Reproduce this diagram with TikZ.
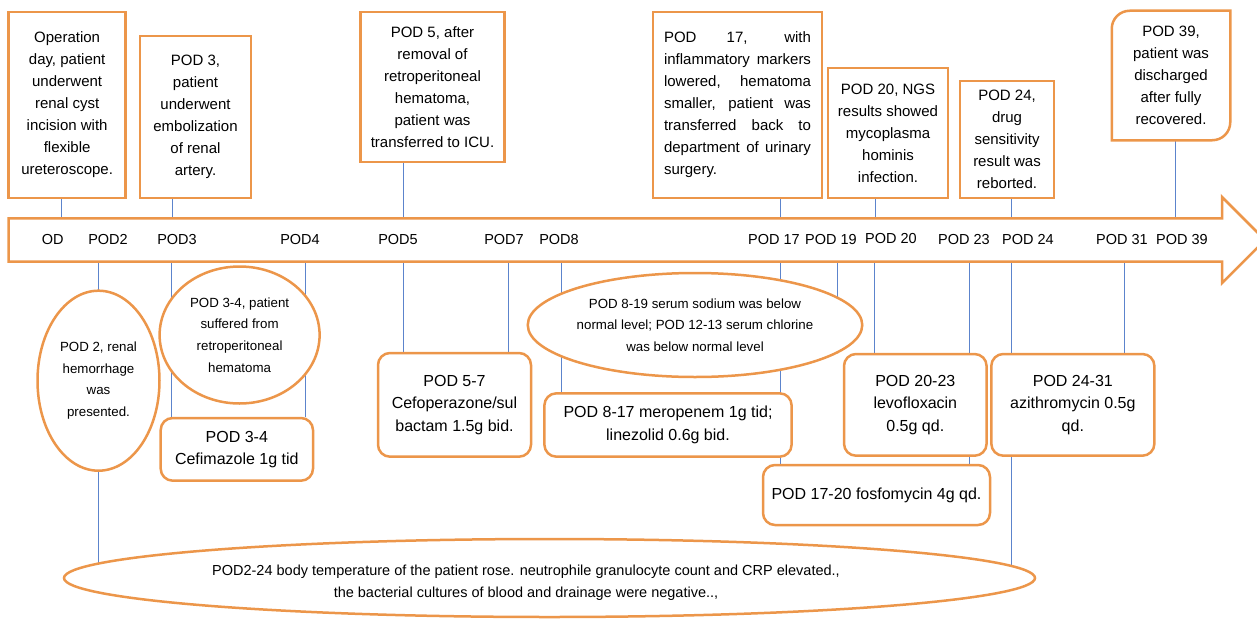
\documentclass[tikz,border=0pt]{standalone}
\usepackage{fontspec}
\setmainfont{Liberation Sans}
\usetikzlibrary{shapes.geometric,backgrounds,calc}
\definecolor{org}{RGB}{236,150,74}
\definecolor{blu}{RGB}{92,132,204}
\tikzset{
  obox/.style={draw=org, line width=2.5pt, fill=white, inner sep=0pt, align=center},
  topbox/.style={obox, font=\fontsize{15}{22}\selectfont},
  rbox/.style={obox, rounded corners=12pt, font=\fontsize{16}{22.5}\selectfont},
  oell/.style={obox, ellipse, font=\fontsize{13.3}{21.7}\selectfont},
  albl/.style={font=\fontsize{14.5}{17}\selectfont, inner sep=0pt},
  conn/.style={draw=blu, line width=0.9pt},
  oline/.style={draw=org, line width=2.5pt, line join=miter},
}
\begin{document}
\begin{tikzpicture}[x=1pt,y=-1pt]
\useasboundingbox (0,0) rectangle (1257,618);
\clip (0,0) rectangle (1257,618);

% timeline arrow
\draw[oline, fill=white] (8.6,218.3) -- (1222,218.3) -- (1222,197) -- (1265,240) -- (1222,283) -- (1222,261.5) -- (8.6,261.5) -- cycle;

% arrow labels
\node[albl] (lOD)  at (52.7,240) {OD};
\node[albl] (l2)   at (108,240) {POD2};
\node[albl] (l3)   at (177,240) {POD3};
\node[albl] (l4)   at (300,240) {POD4};
\node[albl] (l5)   at (398,240) {POD5};
\node[albl] (l7)   at (504,240) {POD7};
\node[albl] (l8)   at (559,240) {POD8};
\node[albl] (l17)  at (774,240) {POD 17};
\node[albl] (l19)  at (831,240) {POD 19};
\node[albl] (l20)  at (891,239) {POD 20};
\node[albl] (l23)  at (964,240) {POD 23};
\node[albl] (l24)  at (1028,240) {POD 24};
\node[albl] (l31)  at (1122,240) {POD 31};
\node[albl] (l39)  at (1182,240) {POD 39};

% top boxes
\node[topbox, minimum width=117.1pt, minimum height=186pt] (tOD) at (67.15,105)
  {Operation\\day, patient\\underwent\\renal cyst\\incision with\\flexible\\ureteroscope.};
\node[topbox, minimum width=111pt, minimum height=162pt] (t3) at (195.5,117)
  {POD 3,\\patient\\underwent\\embolization\\of renal\\artery.};
\node[topbox, minimum width=144pt, minimum height=150pt] (t5) at (432.5,87)
  {POD 5, after\\removal of\\retroperitoneal\\hematoma,\\patient was\\transferred to ICU.};
\node[topbox, align=left, minimum width=169pt, minimum height=186pt] (t17) at (737.5,105)
  {\makebox[147pt][s]{POD\hspace{0pt} 17, with}\\
   \makebox[147pt][s]{inflammatory markers}\\
   \makebox[147pt][s]{lowered, hematoma}\\
   \makebox[147pt][s]{smaller, patient was}\\
   \makebox[147pt][s]{transferred back to}\\
   \makebox[147pt][s]{department of urinary}\\
   surgery.\hspace{110pt}};
\node[topbox, minimum width=120pt, minimum height=130pt] (t20) at (888,133)
  {POD 20, NGS\\results showed\\mycoplasma\\hominis\\infection.};
\node[topbox, minimum width=94pt, minimum height=117pt] (t24) at (1007,139.5)
  {POD 24,\\drug\\sensitivity\\result was\\reborted.};
\node[topbox, draw=none, minimum width=116pt, minimum height=127pt] (t39) at (1171,75.5)
  {POD 39,\\patient was\\discharged\\after fully\\recovered.};
\draw[oline] ($(t39.north west)+(18,0)$) -- (t39.north east) -- ($(t39.south east)+(0,-18)$)
  .. controls ($(t39.south east)+(0,-8)$) and ($(t39.south east)+(-8,0)$) .. ($(t39.south east)+(-18,0)$) -- (t39.south west)
  -- ($(t39.north west)+(0,18)$) .. controls ($(t39.north west)+(0,8)$) and ($(t39.north west)+(8,0)$) .. ($(t39.north west)+(18,0)$) -- cycle;

% bottom shapes
\node[oell, minimum width=122pt, minimum height=180pt] (eP2) at (98.5,380.7)
  {POD 2, renal\\hemorrhage\\was\\presented.};
\node[oell, minimum width=160pt, minimum height=137pt] (eP34) at (239.6,335)
  {POD 3-4, patient\\suffered from\\retroperitoneal\\hematoma};
\node[rbox, minimum width=152.3pt, minimum height=62.7pt] (bCef) at (236.85,449.35)
  {POD 3-4\\Cefimazole 1g tid};
\node[rbox, minimum width=153pt, minimum height=103.7pt] (bP57) at (454.5,404.85)
  {POD 5-7\\Cefoperazone/sul\\bactam 1.5g bid.};
\node[oell, minimum width=330.7pt, minimum height=104pt] (eNa) at (695,325)
  {POD 8-19 serum sodium was below\\normal level; POD 12-13 serum chlorine\\was below normal level};
\node[rbox, minimum width=247.2pt, minimum height=63.4pt] (bMero) at (668,425)
  {POD 8-17 meropenem 1g tid;\\linezolid 0.6g bid.};
\node[rbox, minimum width=142.6pt, minimum height=101.7pt] (bLevo) at (915.3,404.85)
  {POD 20-23\\levofloxacin\\0.5g qd.};
\node[rbox, minimum width=163.1pt, minimum height=101.7pt] (bAzi) at (1072.85,404.85)
  {POD 24-31\\azithromycin 0.5g\\qd.};
\node[rbox, minimum width=227pt, minimum height=60pt] (bFos) at (876.5,495)
  {POD 17-20 fosfomycin 4g qd.};
\node[obox, ellipse, minimum width=971pt, minimum height=78pt] (eBig) at (549.5,578) {};
\node[font=\fontsize{14.5}{22.3}\selectfont, align=center, inner sep=0pt] (bigtxt) at (526,583)
  {POD2-24 body temperature of the patient rose. neutrophile granulocyte count and CRP elevated.,\\
   the bacterial cultures of blood and drainage were negative..,};

% connectors on arrow
\coordinate (aT0)  at (61,218.3);
\coordinate (aT3)  at (172,218.3);
\coordinate (aT5)  at (403.6,218.3);
\coordinate (aT17) at (780,218.3);
\coordinate (aT20) at (875,218.3);
\coordinate (aT24) at (1011,218.3);
\coordinate (aT39) at (1175,218.3);
\coordinate (aB2)  at (98,261.5);
\coordinate (aB3)  at (171,261.5);
\coordinate (aB4)  at (305,261.5);
\coordinate (aB5)  at (403.6,261.5);
\coordinate (aB7)  at (508.6,261.5);
\coordinate (aB8)  at (561.4,261.5);
\coordinate (aB17) at (780.8,261.5);
\coordinate (aB19) at (837,261.5);
\coordinate (aB20) at (874.8,261.5);
\coordinate (aB23) at (969.7,261.5);
\coordinate (aB24) at (1011,261.5);
\coordinate (aB31) at (1124,261.5);

\begin{scope}[on background layer]
\draw[conn] (aT0) -- (aT0 |- tOD.south);
\draw[conn] (aT3) -- (aT3 |- t3.south);
\draw[conn] (aT5) -- (aT5 |- t5.south);
\draw[conn] (aT17) -- (aT17 |- t17.south);
\draw[conn] (aT20) -- (aT20 |- t20.south);
\draw[conn] (aT24) -- (aT24 |- t24.south);
\draw[conn] (aT39) -- (aT39 |- t39.south);
\draw[conn] (aB2) -- (aB2 |- eBig.center);
\draw[conn] (aB3) -- (aB3 |- bCef.north);
\draw[conn] (aB4) -- (aB4 |- bCef.north);
\draw[conn] (aB5) -- (aB5 |- bP57.north);
\draw[conn] (aB7) -- (aB7 |- bP57.north);
\draw[conn] (aB8) -- (aB8 |- bMero.north);
\draw[conn] (aB17) -- (aB17 |- bFos.north);
\draw[conn] (aB19) -- (aB19 |- eNa.center);
\draw[conn] (aB20) -- (aB20 |- bLevo.north);
\draw[conn] (aB23) -- (aB23 |- bFos.north);
\draw[conn] (aB24) -- (aB24 |- eBig.center);
\draw[conn] (aB31) -- (aB31 |- bAzi.north);
\end{scope}
\end{tikzpicture}
\end{document}
